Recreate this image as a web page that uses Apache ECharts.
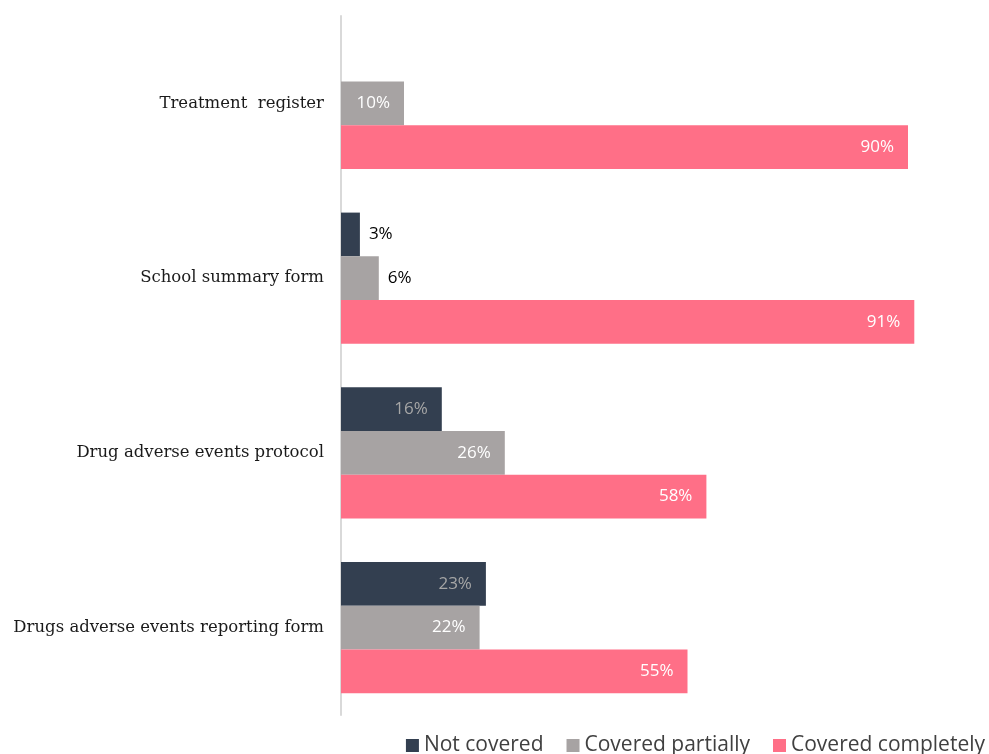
<!DOCTYPE html>
<html>
<head>
<meta charset="utf-8">
<style>
  html, body { margin: 0; padding: 0; background: #ffffff; }
  #chart { width: 989px; height: 754px; }
</style>
<script src="https://cdn.jsdelivr.net/npm/echarts@6/dist/echarts.min.js"></script>
</head>
<body>
<div id="chart"></div>
<script>
// Documents and how completely each one covers the required content (% of schools)
const categories = [
  'Treatment  register',
  'School summary form',
  'Drug adverse events protocol',
  'Drugs adverse events reporting form'
];
const notCovered = [0, 3, 16, 23];
const coveredPartially = [10, 6, 26, 22];
const coveredCompletely = [90, 91, 58, 55];

const seriesNames = ['Not covered', 'Covered partially', 'Covered completely'];
const seriesColors = ['#333f50', '#a7a3a3', '#ff6f87'];
const insideLabelColors = ['#a6a6a6', '#ffffff', '#ffffff'];
const SMALL = 8; // bars narrower than this get their label outside

function makeSeries(idx, values) {
  return {
    name: seriesNames[idx],
    type: 'bar',
    barGap: '0%',
    barCategoryGap: '25%',
    itemStyle: { color: seriesColors[idx] },
    data: values.map(v => {
      const small = v > 0 && v < SMALL;
      return {
        value: v,
        label: {
          show: v > 0,
          position: small ? 'right' : 'insideRight',
          distance: small ? 9 : 14,
          color: small ? '#000000' : insideLabelColors[idx]
        }
      };
    }),
    label: {
      fontFamily: 'Open Sans',
      fontSize: 17,
      formatter: p => p.value + '%'
    }
  };
}

const chart = echarts.init(document.getElementById('chart'));
chart.setOption({
  animation: false,
  backgroundColor: '#ffffff',
  grid: { left: 341, top: 16, width: 630, height: 699, containLabel: false },
  xAxis: {
    type: 'value',
    min: 0,
    max: 100,
    show: false
  },
  yAxis: {
    type: 'category',
    inverse: true,
    data: categories,
    axisLine: { show: true, lineStyle: { color: '#d9d9d9', width: 2 } },
    axisTick: { show: false },
    axisLabel: {
      margin: 17,
      fontFamily: 'DejaVu Serif',
      fontSize: 16.5,
      color: '#1a1a1a'
    }
  },
  legend: {
    right: 4,
    top: 735,
    padding: 0,
    itemWidth: 13,
    itemHeight: 13,
    itemGap: 23,
    icon: 'rect',
    textStyle: { fontFamily: 'Open Sans', fontSize: 21, color: '#404040' },
    data: seriesNames
  },
  series: [
    makeSeries(0, notCovered),
    makeSeries(1, coveredPartially),
    makeSeries(2, coveredCompletely)
  ]
});
</script>
</body>
</html>
